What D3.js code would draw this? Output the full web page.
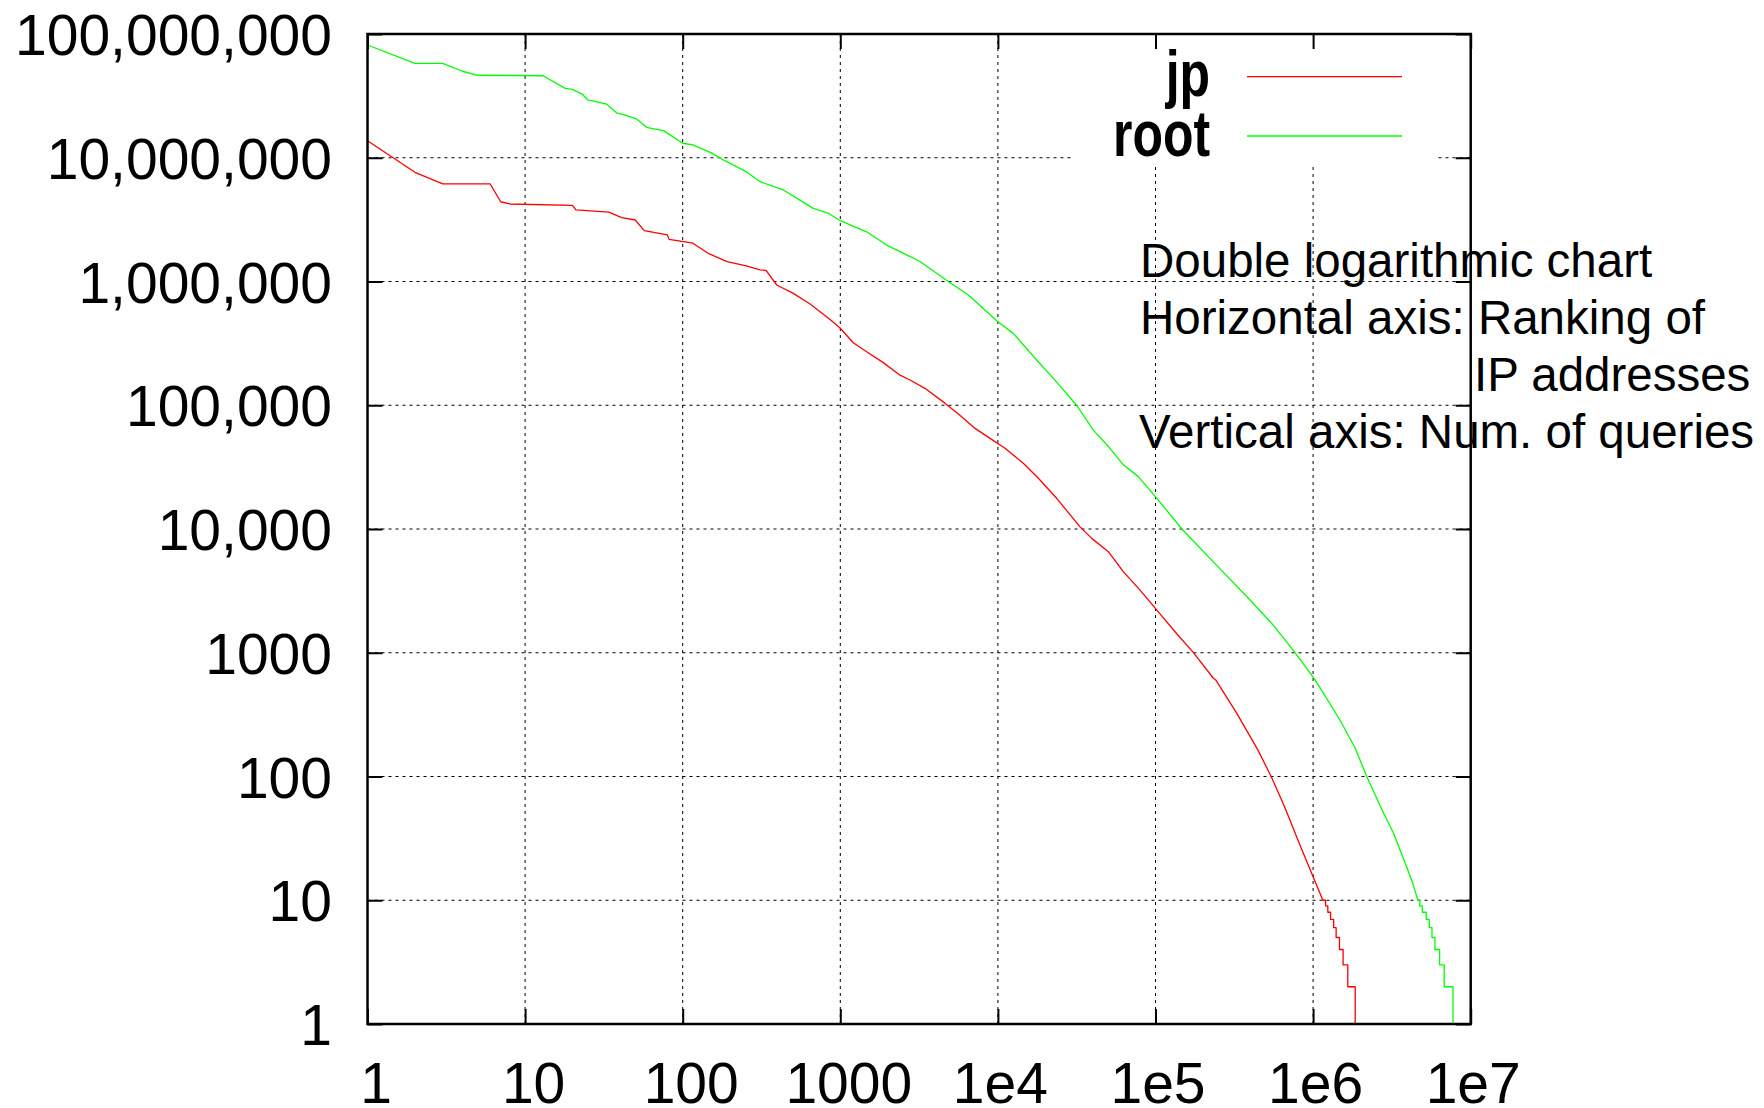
<!DOCTYPE html>
<html>
<head>
<meta charset="utf-8">
<script src="https://cdn.jsdelivr.net/npm/d3@7"></script>
<style>
  html, body { margin: 0; padding: 0; background: #fff; }
  svg { display: block; }
  text { font-family: "Liberation Sans", Arial, Helvetica, sans-serif; }
</style>
</head>
<body>
<svg id="chart" width="1764" height="1108"></svg>
<script>
// ---------------- data ----------------
const xTicks = [1, 10, 100, 1000, 1e4, 1e5, 1e6, 1e7];
const xTickLabels = ["1", "10", "100", "1000", "1e4", "1e5", "1e6", "1e7"];
const yTicks = [1, 10, 100, 1000, 1e4, 1e5, 1e6, 1e7, 1e8];
const yTickLabels = ["1", "10", "100", "1000", "10,000", "100,000", "1,000,000", "10,000,000", "100,000,000"];

const seriesNames = ["jp", "root"];

// jp : ranking of IP address -> number of queries
const jpRank = [1, 2, 3, 6, 7, 8, 20, 21, 34, 37,
  41, 50, 57, 80, 82, 116, 145, 191, 253, 310,
  338, 395, 503, 643, 861, 1000, 1208, 1469, 1875, 2393,
  2768, 3443, 4613, 5741, 7163, 8913, 11100, 14500, 18000, 23600,
  33200, 39400, 50200, 62500, 79800, 102000, 136000, 172000, 233000, 241000,
  328000, 446000, 542000, 659000, 825000, 1000000, 1153000,
  1200000, 1200000, 1240000, 1240000, 1290000, 1290000, 1350000, 1350000, 1400000,
  1400000, 1470000, 1470000, 1550000, 1550000, 1660000, 1660000, 1850000, 1850000];
const jpQueries = [13.7e6, 7.63e6, 6.14e6, 6.14e6, 4.41e6, 4.23e6, 4.13e6, 3.79e6, 3.63e6, 3.47e6,
  3.28e6, 3.14e6, 2.58e6, 2.38e6, 2.19e6, 2.04e6, 1.69e6, 1.45e6, 1.34e6, 1.24e6,
  1.23e6, 937e3, 802e3, 658e3, 494e3, 419e3, 320e3, 271e3, 221e3, 175e3,
  160e3, 137e3, 104e3, 83e3, 65e3, 54e3, 44.9e3, 34e3, 25.8e3, 17.7e3,
  10.4e3, 8.4e3, 6.56e3, 4.52e3, 3.21e3, 2.21e3, 1.43e3, 1.02e3, 622, 603,
  324, 164, 100, 57, 28, 15.5, 10,
  10, 9, 9, 8, 8, 7, 7, 6, 6,
  5, 5, 4, 4, 3, 3, 2, 2, 1];

// root : ranking of IP address -> number of queries
const rootRank = [1, 2, 3, 4, 5, 13, 18, 20, 23, 25,
  33, 38, 42, 51, 59, 76, 100, 116, 153, 181,
  253, 310, 435, 674, 840, 1000, 1469, 1969, 2636, 3207,
  4842, 6490, 10000, 12500, 17600, 22500, 31600, 40300, 51400, 62500,
  77800, 102000, 147000, 227000, 398000, 559000, 759000, 1030000, 1480000, 1850000,
  2190000, 2740000, 3240000, 3840000, 4290000, 4620000,
  4750000, 4750000, 4930000, 4930000, 5220000, 5220000, 5460000, 5460000, 5680000,
  5680000, 5930000, 5930000, 6350000, 6350000, 6790000, 6790000, 7720000, 7720000];
const rootQueries = [81.5e6, 58e6, 58e6, 50e6, 46.4e6, 46e6, 36.4e6, 35.7e6, 32.7e6, 29.3e6,
  27.1e6, 23.1e6, 22.3e6, 20.6e6, 17.6e6, 16.5e6, 13.1e6, 12.7e6, 10.9e6, 9.6e6,
  7.72e6, 6.4e6, 5.49e6, 3.9e6, 3.56e6, 3.1e6, 2.52e6, 1.97e6, 1.64e6, 1.45e6,
  1.0e6, 778e3, 473e3, 381e3, 232e3, 165e3, 100e3, 63e3, 44.9e3, 33e3,
  26.5e3, 17.7e3, 10e3, 5.6e3, 2.67e3, 1.67e3, 1.02e3, 603, 286, 169,
  100, 53.6, 34.8, 19.9, 13.7, 10,
  10, 9, 9, 8, 8, 7, 7, 6, 6,
  5, 5, 4, 4, 3, 3, 2, 2, 1];

const annotationLines = [
  "Double logarithmic chart",
  "Horizontal axis: Ranking of",
  "IP addresses",
  "Vertical axis: Num. of queries"
];

// ---------------- styles / layout ----------------
const seriesColors = ["#ff0000", "#00ff00"];
const plot = { left: 367.5, right: 1470.7, top: 34, bottom: 1024 };
const tickFont = 57;

const svg = d3.select("#chart");
svg.append("rect").attr("width", 1764).attr("height", 1108).attr("fill", "#fff");

const x = d3.scaleLog().domain([1, 1e7]).range([plot.left, plot.right]);
const y = d3.scaleLog().domain([1, 1e8]).range([plot.bottom, plot.top]);

// grid
const grid = svg.append("g");
grid.selectAll("line.vg").data(xTicks.slice(1, -1)).join("line")
  .attr("class", "vg")
  .attr("x1", d => x(d)).attr("x2", d => x(d))
  .attr("y1", y(1)).attr("y2", y(1e8))
  .attr("stroke", "#000").attr("stroke-width", 1).attr("stroke-dasharray", "3,4");
grid.selectAll("line.hg").data(yTicks.slice(1, -1)).join("line")
  .attr("class", "hg")
  .attr("x1", x(1)).attr("x2", x(1e7))
  .attr("y1", d => y(d)).attr("y2", d => y(d))
  .attr("stroke", "#000").attr("stroke-width", 1).attr("stroke-dasharray", "3,4");

// series
const line = d3.line().x(d => x(d[0])).y(d => y(d[1]));
const seriesData = [d3.zip(jpRank, jpQueries), d3.zip(rootRank, rootQueries)];
svg.append("g").selectAll("path").data(seriesData).join("path")
  .attr("d", line)
  .attr("fill", "none")
  .attr("stroke", (d, i) => seriesColors[i])
  .attr("stroke-width", 1.3)
  .attr("stroke-linejoin", "round");

// legend (opaque key box)
const legend = svg.append("g");
legend.append("rect")
  .attr("x", 1072).attr("y", plot.top + 1).attr("width", 365).attr("height", 131)
  .attr("fill", "#fff");
const legendRowY = [76.7, 136];
seriesNames.forEach((name, i) => {
  legend.append("text")
    .attr("transform", `translate(1210, ${legendRowY[i] + 19.5}) scale(0.78, 1)`)
    .attr("text-anchor", "end")
    .attr("font-size", 64)
    .attr("font-weight", "bold")
    .attr("fill", "#000")
    .text(name);
  legend.append("line")
    .attr("x1", 1247).attr("x2", 1402)
    .attr("y1", legendRowY[i]).attr("y2", legendRowY[i])
    .attr("stroke", seriesColors[i]).attr("stroke-width", 1.3);
});

// axes (ticks inward on all four sides)
function styleAxis(g) {
  g.select(".domain").remove();
  g.attr("font-family", null).attr("font-size", null);
  g.selectAll(".tick line").attr("stroke", "#000").attr("stroke-width", 2);
  g.selectAll(".tick text").attr("fill", "#000").attr("font-size", tickFont);
}
svg.append("g")
  .attr("transform", `translate(0, ${y(1)})`)
  .call(d3.axisBottom(x).tickValues(xTicks).tickFormat((d, i) => xTickLabels[i])
    .tickSizeInner(-15).tickSizeOuter(0).tickPadding(38.5))
  .call(styleAxis)
  .call(g => g.selectAll(".tick text").attr("dx", (d, i) => xTickLabels[i].includes("e") ? 2 : 8));
svg.append("g")
  .attr("transform", `translate(0, ${y(1e8)})`)
  .call(d3.axisTop(x).tickValues(xTicks).tickFormat(() => "")
    .tickSizeInner(-15).tickSizeOuter(0))
  .call(styleAxis);
svg.append("g")
  .attr("transform", `translate(${x(1)}, 0)`)
  .call(d3.axisLeft(y).tickValues(yTicks).tickFormat((d, i) => yTickLabels[i])
    .tickSizeInner(-15).tickSizeOuter(0).tickPadding(35.5))
  .call(styleAxis)
  .call(g => g.selectAll(".tick text").attr("dy", "0.36em"));
svg.append("g")
  .attr("transform", `translate(${x(1e7)}, 0)`)
  .call(d3.axisRight(y).tickValues(yTicks).tickFormat(() => "")
    .tickSizeInner(-15).tickSizeOuter(0))
  .call(styleAxis);

// border
svg.append("rect")
  .attr("x", x(1)).attr("y", y(1e8))
  .attr("width", x(1e7) - x(1)).attr("height", y(1) - y(1e8))
  .attr("fill", "none").attr("stroke", "#000").attr("stroke-width", 2.5);

// annotation
const annX = [1140, 1140, 1474, 1139];
const annY = [277, 334, 391, 448];
svg.append("g").selectAll("text").data(annotationLines).join("text")
  .attr("x", (d, i) => annX[i])
  .attr("y", (d, i) => annY[i])
  .attr("font-size", 47.5)
  .attr("fill", "#000")
  .text(d => d);
</script>
</body>
</html>
